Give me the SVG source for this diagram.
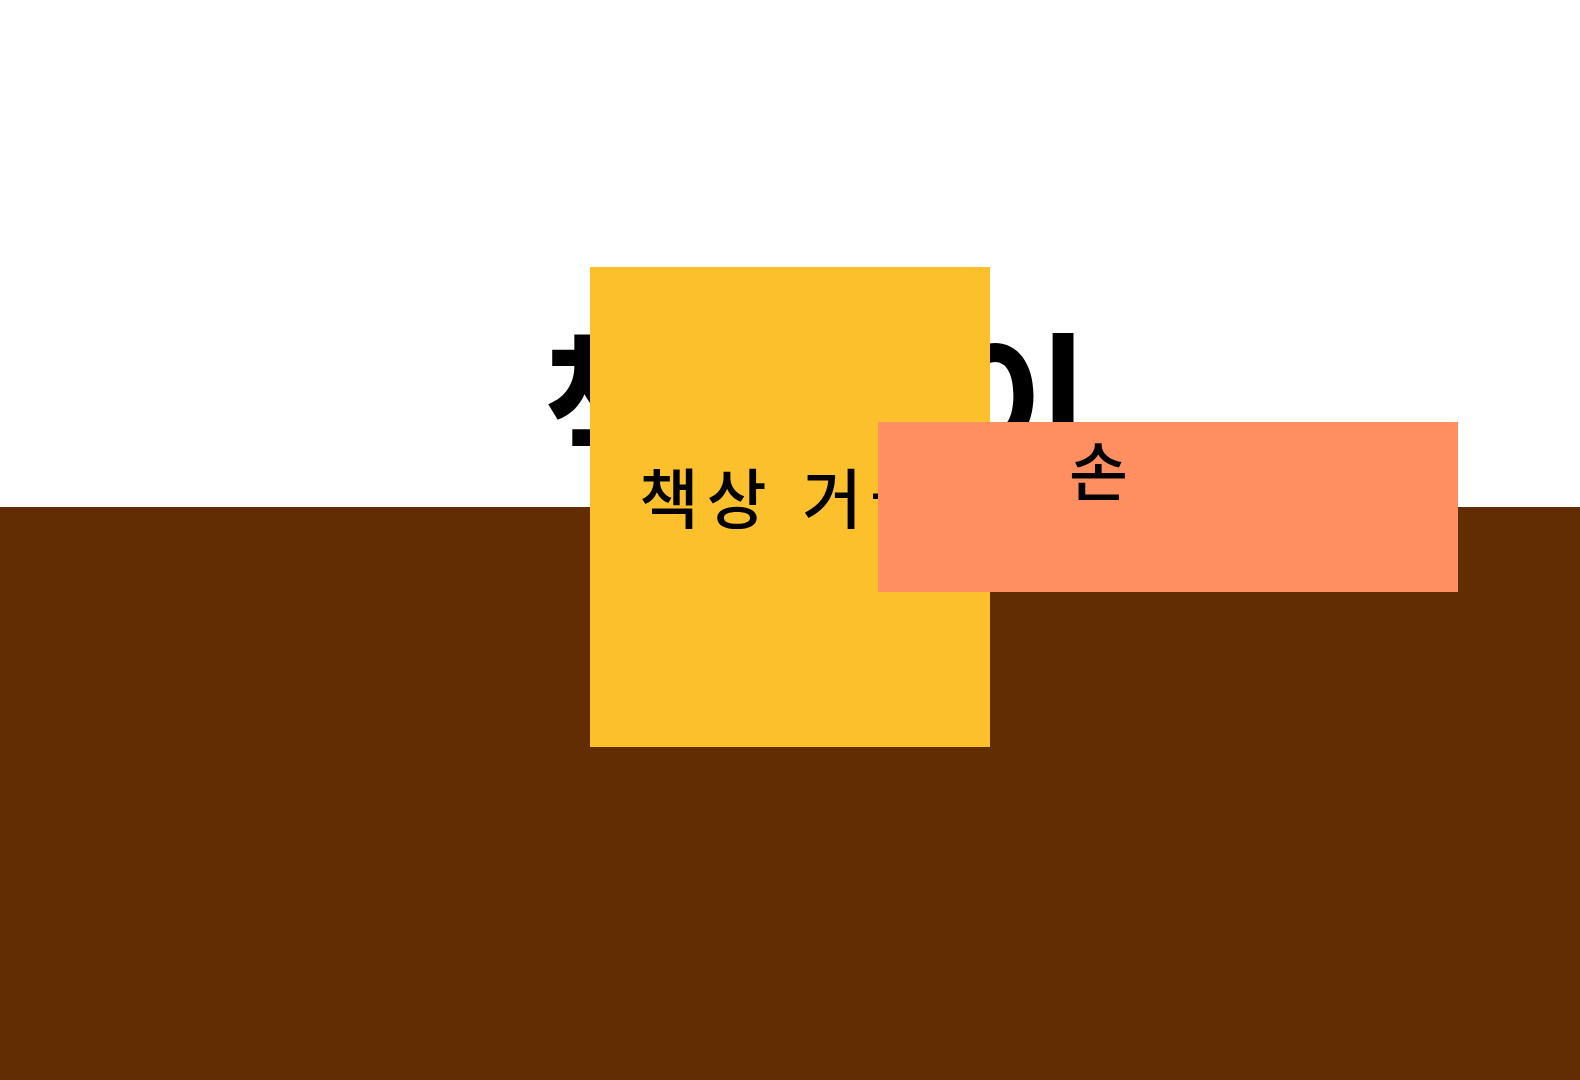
<svg xmlns="http://www.w3.org/2000/svg" width="1580" height="1080" viewBox="0 0 1580 1080">
<style>
.title{font-family:"Noto Sans CJK KR","Noto Sans",sans-serif;font-weight:700;font-size:157px;fill:#000}
.lbl{font-family:"Noto Sans CJK KR","Noto Sans",sans-serif;font-weight:500;font-size:64px;fill:#000}
</style>
<rect x="0" y="0" width="1580" height="1080" fill="#ffffff"/>
<g id="floor"><rect x="0" y="507" width="1580" height="573" fill="#622d02"/></g>
<g id="title"><text class="title" x="542" y="465" textLength="549" lengthAdjust="spacing">책상 높이</text></g>
<g id="desk"><rect x="590" y="267" width="400" height="480" fill="#fdc02d"/><text class="lbl" x="639" y="523" style="font-size:65px" letter-spacing="8" word-spacing="5">책상 거울</text></g>
<g id="hand"><rect x="878" y="422" width="580" height="170" fill="#ff8f60"/><text class="lbl" x="1069" y="495">손</text></g>
<g id="connectors"></g>
</svg>
